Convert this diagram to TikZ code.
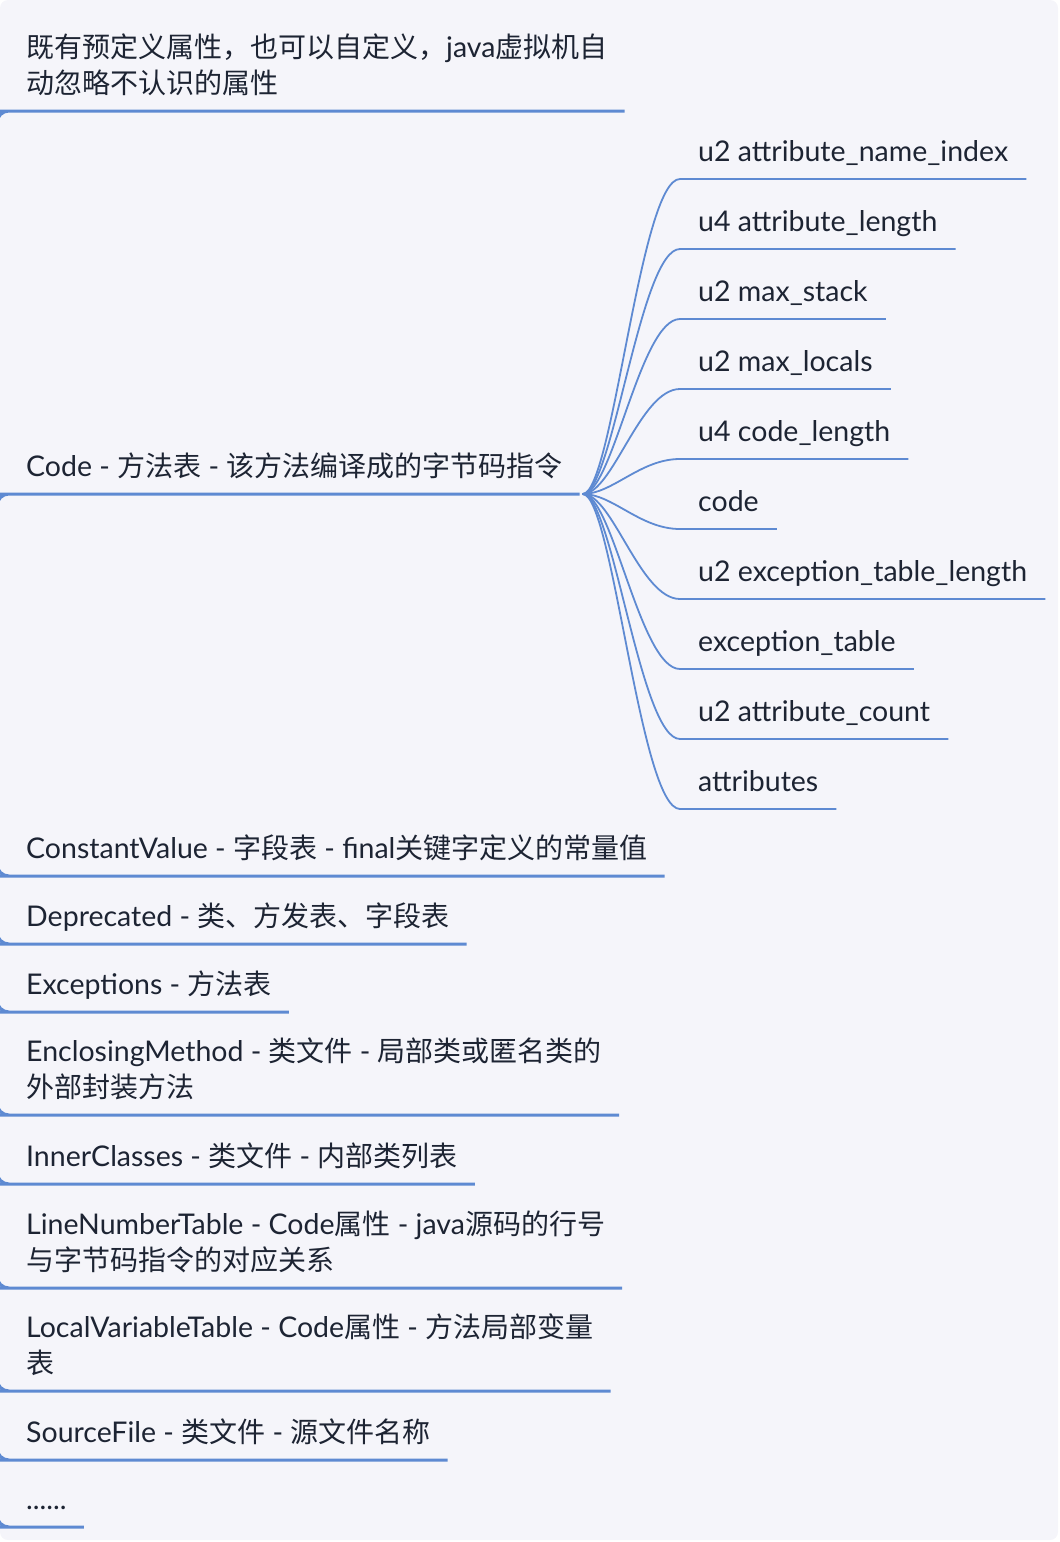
\documentclass[tikz,border=0pt]{standalone}
\usepackage{fontspec}
\setmainfont{Lato}[Scale=1.018]
\newfontfamily\cjk{Noto Sans CJK SC}
\newcommand{\zh}[1]{{\cjk #1}}
\usetikzlibrary{positioning}

\definecolor{bgpage}{HTML}{F5F5FA}
\definecolor{branchblue}{HTML}{5E8AD2}
\definecolor{inkdark}{HTML}{1D2433}

\begin{document}
\begin{tikzpicture}[
    x=1pt, y=-1pt,
    % GLOBAL CFG
    font=\fontsize{28pt}{36pt}\selectfont,
    % Styles
    topic/.style={% For the main topics
        anchor=south west,
        align=left,
        text=inkdark,
        inner xsep=17pt,
        inner ysep=0pt,
        text depth=17pt,
        },
    subtopic/.style={% For the children of Code
        topic,
        inner xsep=18pt,
        },
    MainLine/.style={% Thick underlines with rounded corners
        draw=branchblue,
        line width=3pt,
        rounded corners=12pt,
        },
    SubLine/.style={% Thin curved branches
        draw=branchblue,
        line width=1.8pt,
        },
    ]

%Start drawing the thing...
    \useasboundingbox (0,0) rectangle (1060,1542);
    \fill[bgpage, rounded corners=8pt] (0,0) rectangle (1058,1540);

    % Draw the main topics
    \node[topic] (predef) at (9,111) {\zh{既有预定义属性，也可以自定义，}java\zh{虚拟机自}\\\zh{动忽略不认识的属性}};
    \node[topic] (code) at (9,494) {Code - \zh{方法表} - \zh{该方法编译成的字节码指令}};
    \node[topic] (constval) at (9,876) {ConstantValue - \zh{字段表} - final\zh{关键字定义的常量值}};
    \node[topic] (deprec) at (9,944) {Deprecated - \zh{类、方发表、字段表}};
    \node[topic] (excep) at (9,1012) {Exceptions - \zh{方法表}};
    \node[topic] (enclose) at (9,1115) {EnclosingMethod - \zh{类文件} - \zh{局部类或匿名类的}\\\zh{外部封装方法}};
    \node[topic] (inner) at (9,1184) {InnerClasses - \zh{类文件} - \zh{内部类列表}};
    \node[topic] (linenum) at (9,1288) {LineNumberTable - Code\zh{属性} - java\zh{源码的行号}\\\zh{与字节码指令的对应关系}};
    \node[topic] (localvar) at (9,1391) {LocalVariableTable - Code\zh{属性} - \zh{方法局部变量}\\\zh{表}};
    \node[topic] (srcfile) at (9,1460) {SourceFile - \zh{类文件} - \zh{源文件名称}};
    \node[topic] (more) at (9,1527) {......};

    % Draw the children of Code
    \node[subtopic] (name_idx) at (680,179) {u2 attribute\_name\_index};
    \node[subtopic] (attr_len) at (680,249) {u4 attribute\_length};
    \node[subtopic] (max_stack) at (680,319) {u2 max\_stack};
    \node[subtopic] (max_locals) at (680,389) {u2 max\_locals};
    \node[subtopic] (code_len) at (680,459) {u4 code\_length};
    \node[subtopic] (code_body) at (680,529) {code};
    \node[subtopic] (exc_len) at (680,599) {u2 exception\_table\_length};
    \node[subtopic] (exc_table) at (680,669) {exception\_table};
    \node[subtopic] (attr_count) at (680,739) {u2 attribute\_count};
    \node[subtopic] (attrs) at (680,809) {attributes};

% Start connecting all.
    % root sits off the page, only the bends show
    \coordinate (root) at (-3,690);
    \coordinate (hub) at ([xshift=3pt]code.south east);

    \foreach \t in {predef, code, constval, deprec, excep, enclose, inner, linenum, localvar, srcfile, more}
        \draw[MainLine] (root) |- (\t.south west) -- (\t.south east);

    \foreach \s in {name_idx, attr_len, max_stack, max_locals, code_len, code_body, exc_len, exc_table, attr_count, attrs}
        \draw[SubLine] (hub) .. controls +(30,0) and +(-40,0) .. (\s.south west) -- (\s.south east);

\end{tikzpicture}
\end{document}
